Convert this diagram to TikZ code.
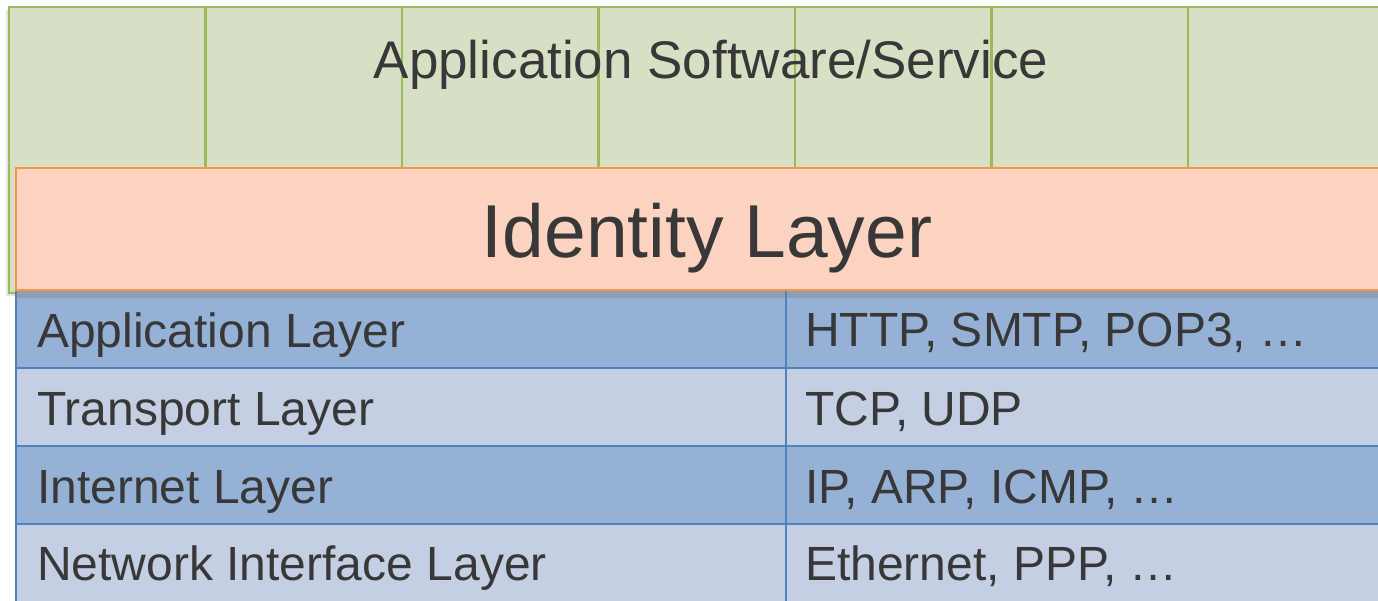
\documentclass[tikz,border=0pt]{standalone}
\usepackage{fontspec}
\setmainfont{Liberation Sans}
\usetikzlibrary{shadows}
\definecolor{gfill}{HTML}{D7E0C4}
\definecolor{gline}{HTML}{9BBB59}
\definecolor{ofill}{HTML}{FBD3C0}
\definecolor{oline}{HTML}{F79646}
\definecolor{bdark}{HTML}{95B1D6}
\definecolor{blight}{HTML}{C4CFE3}
\definecolor{bline}{HTML}{4F81BD}
\definecolor{txt}{HTML}{383838}
\begin{document}
\begin{tikzpicture}[x=1pt,y=-1pt,
  appcol/.style={draw=gline, fill=gfill, line width=2.2pt, inner sep=0pt, outer sep=0pt,
    anchor=north west, minimum width=196.5pt, minimum height=286pt,
    drop shadow={shadow xshift=-3pt, shadow yshift=-3pt, opacity=0.2}},
  idbox/.style={draw=oline, fill=ofill, line width=2.2pt, inner sep=0pt, outer sep=0pt,
    anchor=north west, minimum width=1380pt, minimum height=122pt,
    drop shadow={shadow xshift=0pt, shadow yshift=-8pt, opacity=0.35}},
  cell/.style={draw=bline, line width=2.2pt, inner sep=0pt, outer sep=0pt,
    anchor=north west, minimum height=78pt},
  lcell/.style={cell, minimum width=770pt},
  rcell/.style={cell, minimum width=604pt},
  celltext/.style={text=txt, anchor=base west, inner sep=0pt, font=\fontsize{48}{55}\selectfont},
  bigtext/.style={text=txt, anchor=base, inner sep=0pt},
]
\useasboundingbox (0,0) rectangle (1378,600);
\clip (0,0) rectangle (1378,600);
\fill[white] (0,0) rectangle (1378,600);

% application software columns (drawn right to left so shadows fall left of each divider)
\foreach \i in {6,5,...,0} {
  \node[appcol] (col\i) at ({9+196.5*\i},7) {};
}
\node[bigtext, font=\fontsize{53}{60}\selectfont] (apptext) at (711,78) {Application Software/Service};

% TCP/IP table
\node[lcell, fill=bdark]  (r1l) at (16,290) {};
\node[rcell, fill=bdark]  (r1r) at (786,290) {};
\node[lcell, fill=blight] (r2l) at (16,368) {};
\node[rcell, fill=blight] (r2r) at (786,368) {};
\node[lcell, fill=bdark]  (r3l) at (16,446) {};
\node[rcell, fill=bdark]  (r3r) at (786,446) {};
\node[lcell, fill=blight] (r4l) at (16,524) {};
\node[rcell, fill=blight] (r4r) at (786,524) {};

\node[celltext] (t1l) at (37,347) {Application Layer};
\node[celltext] (t1r) at (805,346) {HTTP, SMTP, POP3, …};
\node[celltext] (t2l) at (37,425) {Transport Layer};
\node[celltext] (t2r) at (805,425) {TCP, UDP};
\node[celltext] (t3l) at (37,503) {Internet Layer};
\node[celltext] (t3r) at (805,503) {IP, ARP, ICMP, …};
\node[celltext] (t4l) at (37,580) {Network Interface Layer};
\node[celltext] (t4r) at (805,580) {Ethernet, PPP, …};

% identity layer
\node[idbox] (id) at (16,168) {};
\node[bigtext, font=\fontsize{75}{84}\selectfont] (idtext) at (707,257) {Identity Layer};
\end{tikzpicture}
\end{document}
